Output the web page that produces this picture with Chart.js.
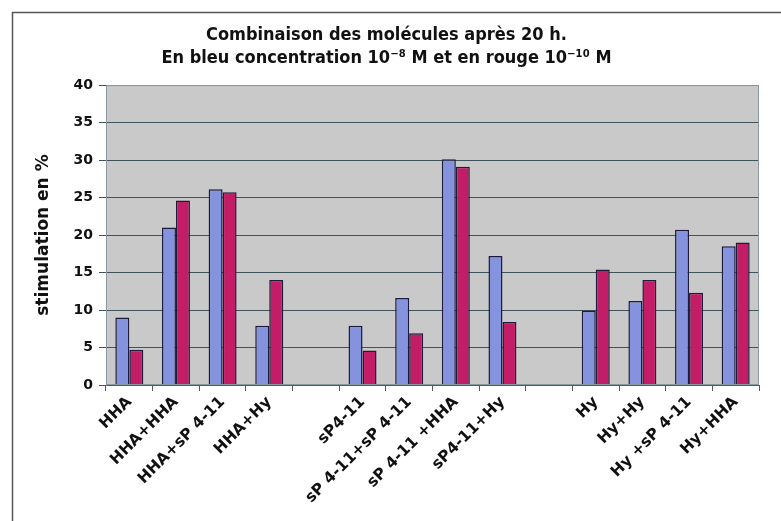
<!DOCTYPE html>
<html>
<head>
<meta charset="utf-8">
<script src="https://cdn.jsdelivr.net/npm/chart.js@4.4.1/dist/chart.umd.min.js"></script>
<style>
    html, body { margin: 0; padding: 0; background: #fff; }
    #wrap { width: 781px; height: 521px; position: relative; }
</style>
</head>
<body>
<div id="wrap"><canvas id="myChart"></canvas></div>
<script>
// catégories (les chaînes vides sont les espaces entre les groupes)
const categories = [
    'HHA', 'HHA+HHA', 'HHA+sP 4-11', 'HHA+Hy', '',
    'sP4-11', 'sP 4-11+sP 4-11', 'sP 4-11 +HHA', 'sP4-11+Hy', '',
    'Hy', 'Hy+Hy', 'Hy +sP 4-11', 'Hy+HHA'
];
// bleu : 10-8 M
const bleu = [9.0, 21.0, 26.1, 7.9, null, 7.9, 11.6, 30.1, 17.2, null, 9.9, 11.2, 20.7, 18.5];
// rouge : 10-10 M
const rouge = [4.7, 24.6, 25.7, 14.0, null, 4.6, 6.9, 29.1, 8.4, null, 15.4, 14.0, 12.3, 19.0];
const yTicks = [0, 5, 10, 15, 20, 25, 30, 35, 40];

const fontFam = '"DejaVu Sans", Verdana, sans-serif';
const titleFam = '"DejaVu Sans Condensed", "DejaVu Sans", Verdana, sans-serif';

// fond gris de la zone de tracé + cadre de la page
const fondPlugin = {
    id: 'fond',
    beforeDraw: chart => {
        const ctx = chart.ctx;
        const a = chart.chartArea;
        ctx.save();
        ctx.fillStyle = '#fff';
        ctx.fillRect(0, 0, chart.width, chart.height);
        // cadre
        ctx.strokeStyle = '#555';
        ctx.lineWidth = 1.5;
        ctx.beginPath();
        ctx.moveTo(12.5, chart.height);
        ctx.lineTo(12.5, 12.5);
        ctx.lineTo(chart.width, 12.5);
        ctx.stroke();
        ctx.fillStyle = '#c9c9c9';
        ctx.fillRect(a.left, a.top, a.right - a.left, a.bottom - a.top);
        ctx.restore();
    },
    afterDatasetsDraw: chart => {
        const ctx = chart.ctx;
        const a = chart.chartArea;
        ctx.save();
        ctx.strokeStyle = '#8a9aa2';
        ctx.lineWidth = 1;
        ctx.strokeRect(a.left + 0.5, a.top + 0.5, a.right - a.left - 1, a.bottom - a.top - 1);
        ctx.restore();
    }
};

const canvas = document.getElementById('myChart');
const chart = new Chart(canvas, {
    type: 'bar',
    data: {
        labels: categories,
        datasets: [{
            label: '10-8 M',
            data: bleu,
            backgroundColor: '#8593df',
            borderColor: '#1c1c3a',
            borderWidth: 1.5
        }, {
            label: '10-10 M',
            data: rouge,
            backgroundColor: '#c41d68',
            borderColor: '#1c1c3a',
            borderWidth: 1.5
        }]
    },
    options: {
        responsive: true,
        maintainAspectRatio: false,
        animation: false,
        layout: { padding: { left: 14, right: 22, top: 22, bottom: 0 } },
        datasets: { bar: { barPercentage: 1, categoryPercentage: 0.6 } },
        plugins: {
            legend: { display: false },
            tooltip: { enabled: false },
            title: {
                display: true,
                text: ['Combinaison des molécules après 20 h.',
                       'En bleu concentration 10⁻⁸ M et en rouge 10⁻¹⁰ M'],
                color: '#111',
                font: { family: titleFam, size: 18, weight: 'bold', lineHeight: 1.28 },
                padding: { top: 2, bottom: 15 }
            }
        },
        scales: {
            x: {
                afterFit: s => { s.height = 136; },
                grid: {
                    offset: true,
                    drawOnChartArea: false,
                    drawTicks: true,
                    tickLength: 6,
                    color: '#555'
                },
                border: { display: true, color: '#555' },
                ticks: {
                    autoSkip: false,
                    minRotation: 45,
                    maxRotation: 45,
                    color: '#111',
                    padding: 2,
                    font: { family: fontFam, size: 15.5, weight: 'bold' }
                }
            },
            y: {
                min: 0,
                max: 40,
                afterFit: s => { s.width = 92; },
                afterBuildTicks: s => { s.ticks = yTicks.map(v => ({ value: v })); },
                grid: {
                    color: '#3f535a',
                    lineWidth: 1,
                    tickLength: 7
                },
                border: { display: true, color: '#777' },
                ticks: {
                    color: '#111',
                    padding: 6,
                    font: { family: fontFam, size: 14, weight: 'bold' }
                },
                title: {
                    display: true,
                    text: 'stimulation en %',
                    color: '#111',
                    font: { family: fontFam, size: 17, weight: 'bold' },
                    padding: { top: 19, bottom: 0 }
                }
            }
        }
    },
    plugins: [fondPlugin]
});
</script>
</body>
</html>
